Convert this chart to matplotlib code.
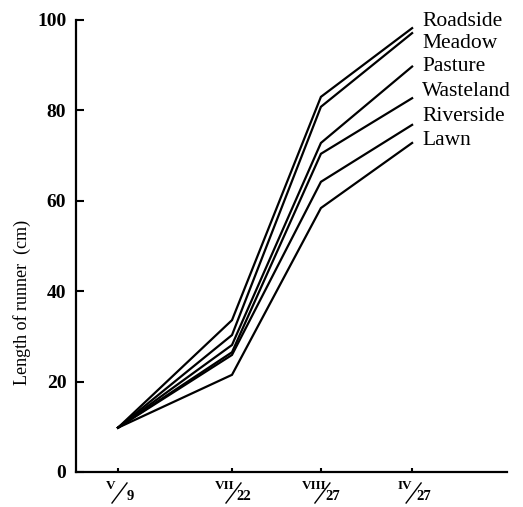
import numpy as np
import matplotlib.pyplot as plt
from matplotlib.lines import Line2D

plt.rcParams['font.family'] = ['Liberation Serif', 'DejaVu Serif']

# Дати вимірювань (римський місяць / день) та їх положення на осі
months = ['V', 'VII', 'VIII', 'IV']
days = ['9', '22', '27', '27']
x_pos = [0, 1, 1.78, 2.58]

# Довжина пагонів (см) для кожного місцезростання
sites = ['Roadside', 'Meadow', 'Pasture', 'Wasteland', 'Riverside', 'Lawn']
roadside = [9.8, 33.6, 83.0, 98.2]
meadow = [9.8, 30.3, 80.8, 97.1]
pasture = [9.8, 28.1, 72.8, 89.7]
wasteland = [9.8, 26.5, 70.4, 82.7]
riverside = [9.8, 25.9, 64.2, 76.8]
lawn = [9.8, 21.5, 58.4, 72.8]
series = [roadside, meadow, pasture, wasteland, riverside, lawn]

# Вертикальні позиції підписів серій
label_y = [99.6, 94.9, 89.8, 84.2, 78.6, 73.4]

W, H = 523, 507
fig = plt.figure(figsize=(W / 100, H / 100), dpi=100)
ax = fig.add_axes([76 / W, 35 / H, 431 / W, 452 / H])

for vals in series:
    ax.plot(x_pos, vals, color='black', linewidth=1.6, solid_joinstyle='miter')

for name, ly in zip(sites, label_y):
    ax.text(x_pos[-1] + 10 / 114, ly, name, fontsize=15.5, va='center',
            ha='left', clip_on=False)

ax.set_xlim(-42 / 114, 389 / 114)
ax.set_ylim(0, 100)
ax.spines['top'].set_visible(False)
ax.spines['right'].set_visible(False)
ax.spines['left'].set_linewidth(1.6)
ax.spines['bottom'].set_linewidth(1.6)

ax.set_yticks([0, 20, 40, 60, 80, 100])
ax.set_yticklabels(['0', '20', '40', '60', '80', '100'],
                   fontsize=14, fontweight='bold')
ax.tick_params(axis='y', direction='in', length=6, width=1.5, pad=7)
ax.set_xticks(x_pos)
ax.set_xticklabels([])
ax.tick_params(axis='x', direction='in', length=3, width=1.5)

# Підписи дат у вигляді "місяць / день"
for xp, m, d in zip(x_pos, months, days):
    px, py = ax.transData.transform((xp, 0))
    ax.annotate(m, xy=(xp, 0), xytext=(-7, -14), textcoords='offset pixels',
                ha='center', va='center', fontsize=9.5, fontweight='bold',
                annotation_clip=False)
    ax.annotate(d, xy=(xp, 0), xytext=(12, -25), textcoords='offset pixels',
                ha='center', va='center', fontsize=10.5, fontweight='bold',
                annotation_clip=False)
    fig.add_artist(Line2D([(px - 6) / W, (px + 9) / W],
                          [(py - 31) / H, (py - 11) / H],
                          transform=fig.transFigure, color='black', lw=1))

ax.text(-0.125, 37.6, 'Length of runner  (cm)', rotation=90,
        transform=ax.get_yaxis_transform(), fontsize=13,
        ha='center', va='center')

fig.savefig('out.png', dpi=100)
